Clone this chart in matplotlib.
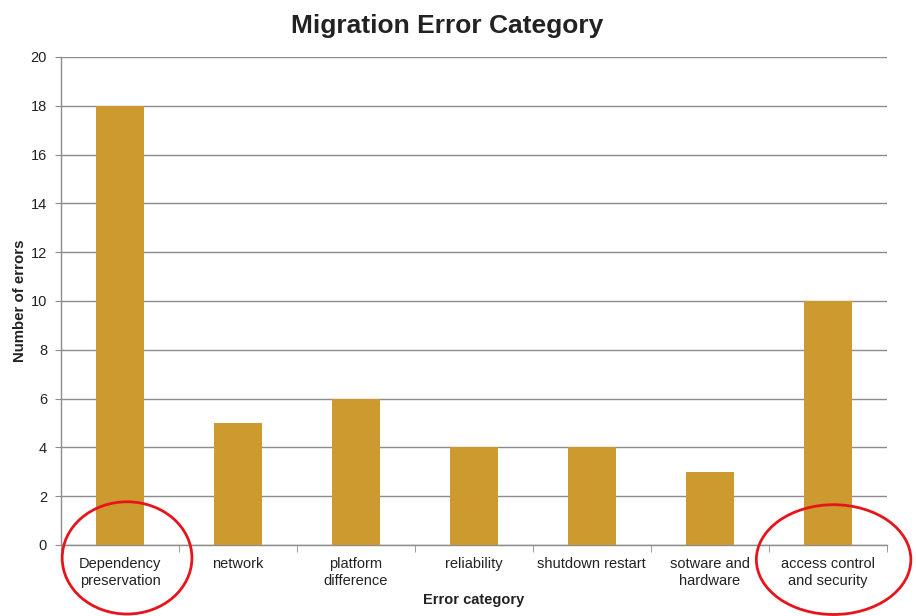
import matplotlib
matplotlib.use('Agg')
import matplotlib.pyplot as plt
from matplotlib.patches import Ellipse
import numpy as np

plt.rcParams['font.family'] = ['Liberation Sans', 'DejaVu Sans']

# data
categories = ['Dependency\npreservation', 'network', 'platform\ndifference', 'reliability',
              'shutdown restart', 'sotware and\nhardware', 'access control\nand security']
errors = [18, 5, 6, 4, 4, 3, 10]
y_ticks = [0, 2, 4, 6, 8, 10, 12, 14, 16, 18, 20]

bar_color = '#CC9A2E'
grid_color = '#8c8c8c'
text_color = '#222222'

fig = plt.figure(figsize=(9.16, 6.16), dpi=100)
ax = fig.add_axes([0.0666, 0.1153, 0.9014, 0.7922])

x = np.arange(len(categories))
ax.bar(x, errors, width=0.41, color=bar_color, zorder=3)

ax.set_xlim(-0.5, len(categories) - 0.5)
ax.set_ylim(0, 20)
ax.set_yticks(y_ticks)
ax.yaxis.grid(True, color=grid_color, linewidth=1.0, zorder=0)
ax.tick_params(axis='y', labelsize=10.5, length=4, color=grid_color, pad=6,
               labelcolor=text_color)

# labels centred under bars, tick marks between categories
ax.set_xticks(x)
ax.set_xticklabels(categories, fontsize=10.5, linespacing=1.2, color=text_color)
ax.tick_params(axis='x', length=0, pad=9)
ax.set_xticks(np.arange(-0.5, len(categories)), minor=True)
ax.tick_params(axis='x', which='minor', length=5, color=grid_color)

for s in ['top', 'right']:
    ax.spines[s].set_visible(False)
for s in ['left', 'bottom']:
    ax.spines[s].set_color(grid_color)
    ax.spines[s].set_linewidth(1.0)

ax.set_ylabel('Number of errors', fontsize=10.8, fontweight='bold', color=text_color)
ax.yaxis.set_label_coords(-0.041, 0.5)
ax.set_xlabel('Error category', fontsize=10.5, fontweight='bold', labelpad=4,
              color=text_color)
fig.suptitle('Migration Error Category', fontsize=19, fontweight='bold', x=0.4886, y=0.978,
             color=text_color)

# red circles around highlighted categories
ax.add_patch(Ellipse((0.06, -0.53), 1.1, 4.6, fill=False, edgecolor='#e8141b',
                     linewidth=2, clip_on=False, zorder=5))
ax.add_patch(Ellipse((6.05, -0.6), 1.31, 4.5, fill=False, edgecolor='#e8141b',
                     linewidth=2, clip_on=False, zorder=5))

fig.savefig('out.png', dpi=100)
